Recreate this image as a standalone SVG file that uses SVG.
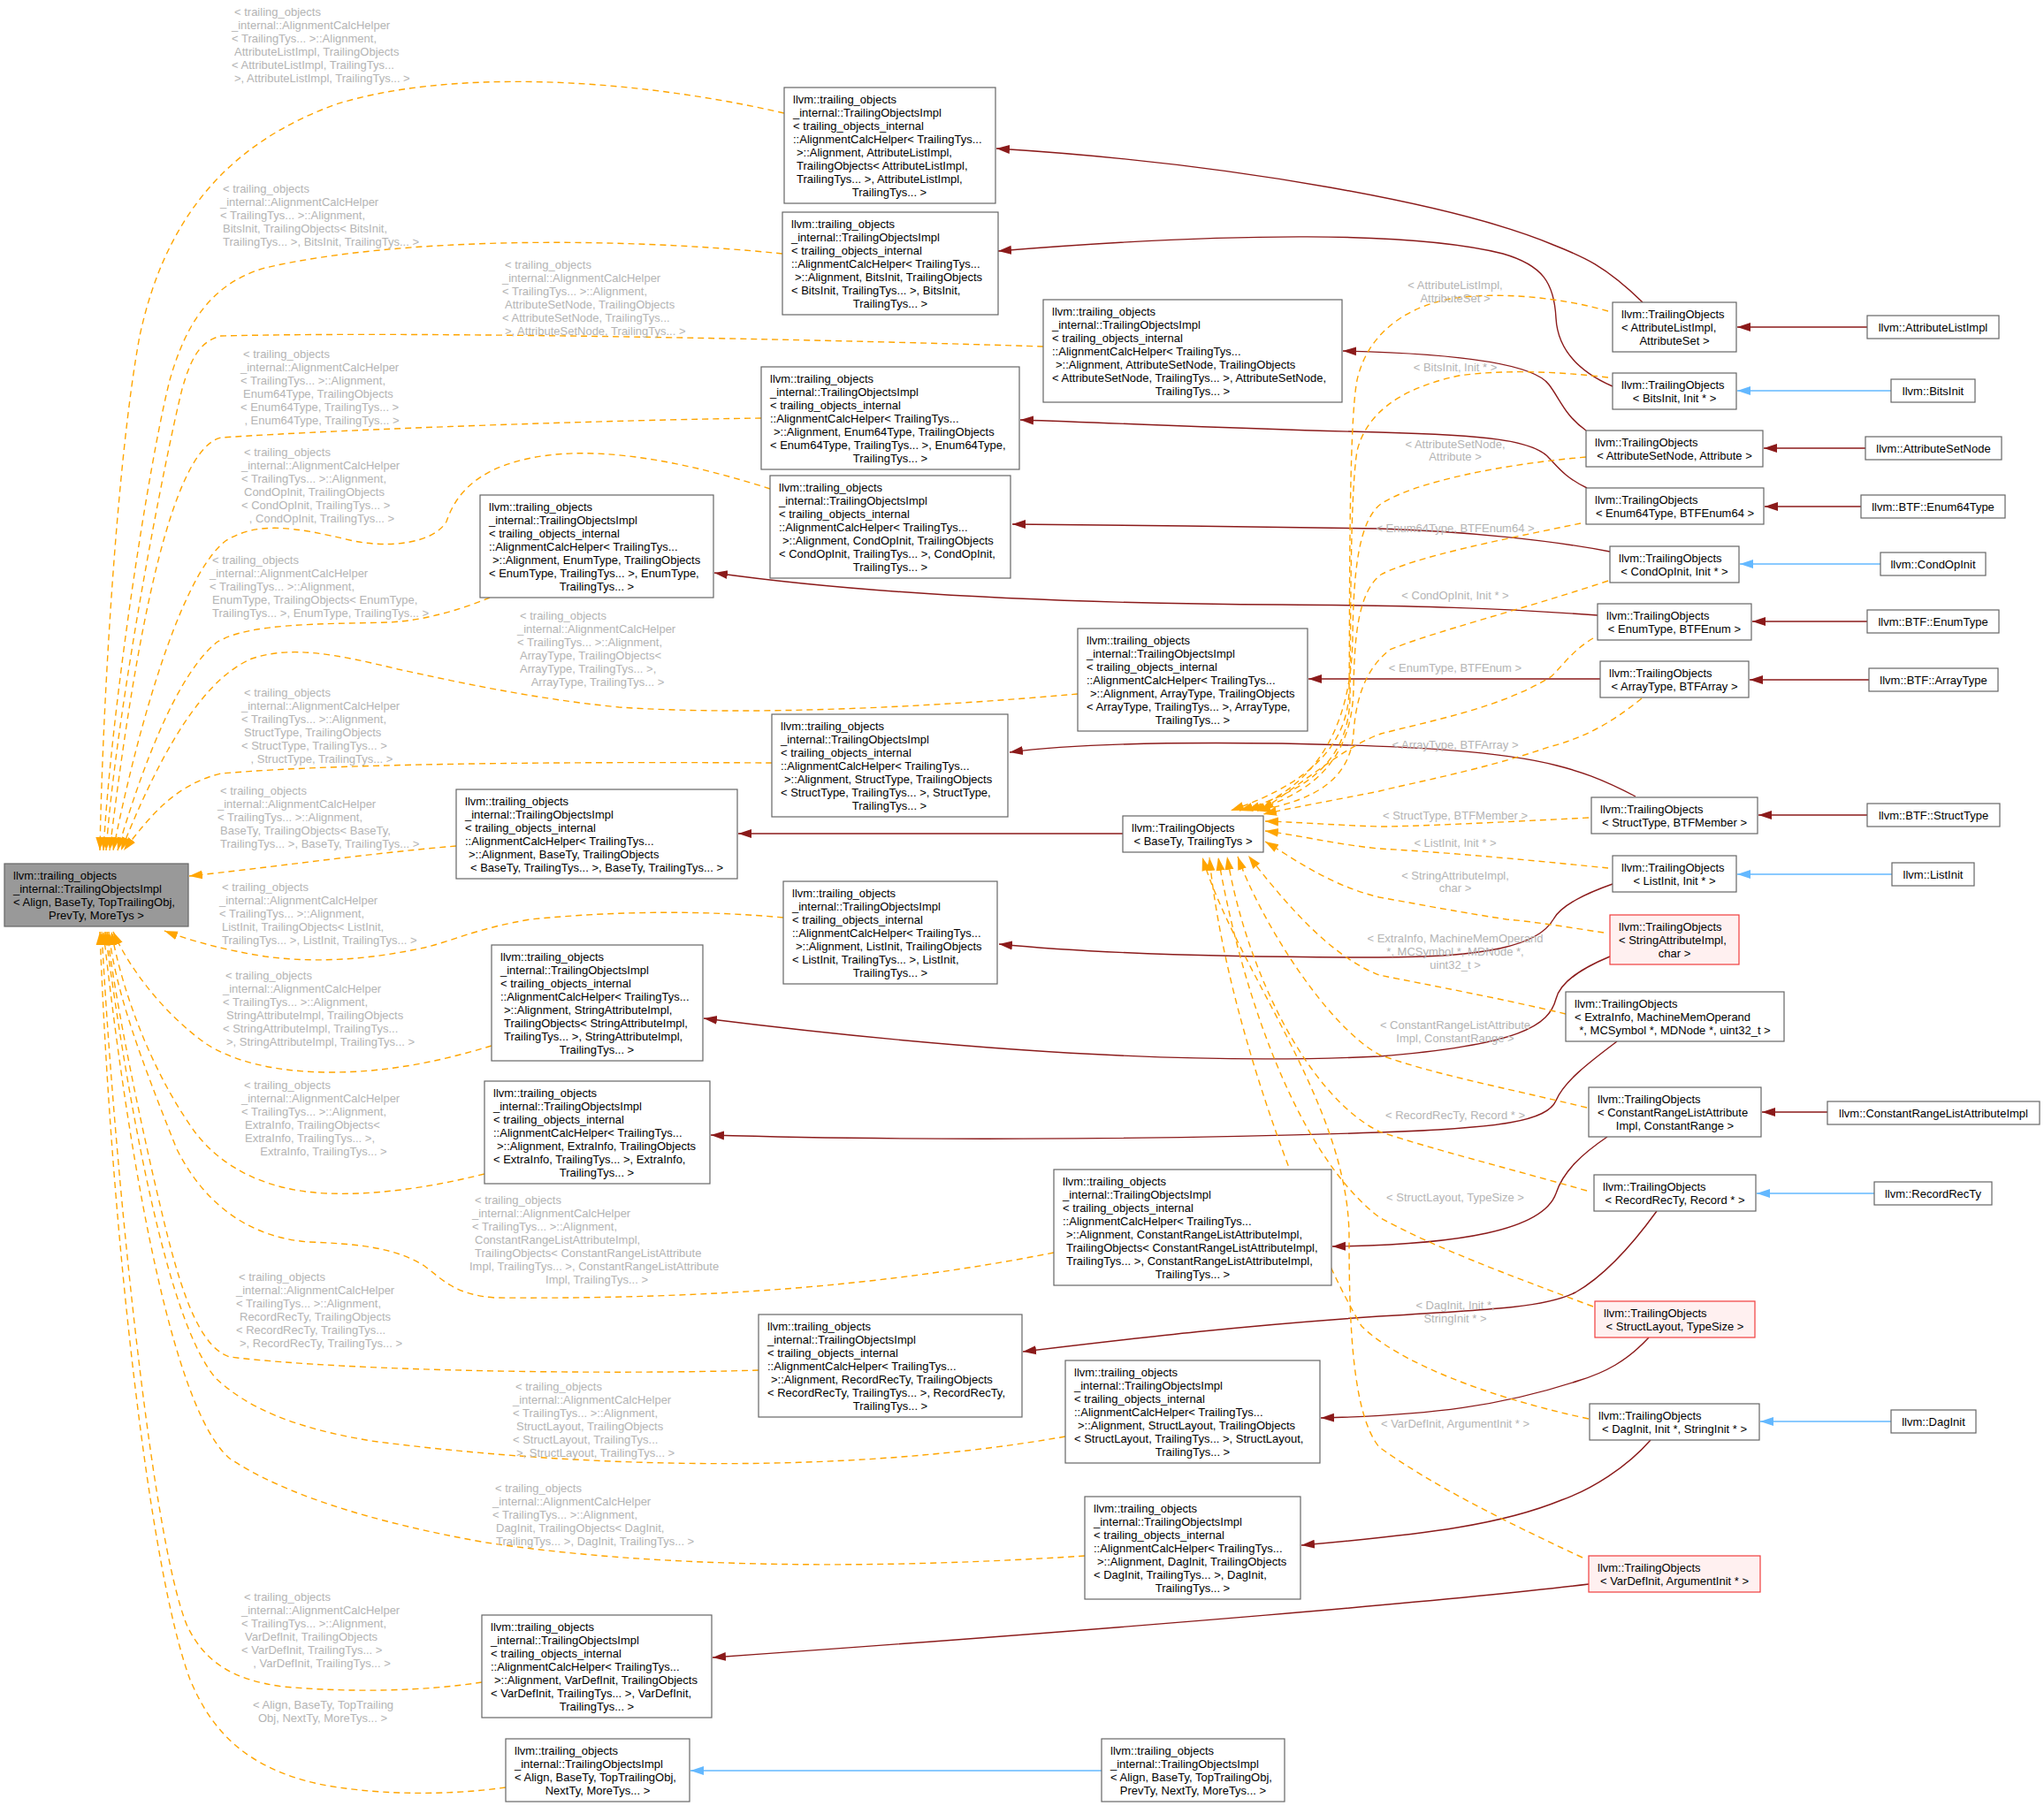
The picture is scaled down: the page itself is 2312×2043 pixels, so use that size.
<svg xmlns="http://www.w3.org/2000/svg" width="2312" height="2043" viewBox="0 0 2312 2043">
<style>
text{font-family:"Liberation Sans",Arial,sans-serif;font-size:13px;fill:#000}
.lb{fill:#b4b4b4}
.m{text-anchor:middle}
.nb{fill:#fff;stroke:#666;stroke-width:1.2}
.nr{fill:#fff0f0;stroke:#f03c3c;stroke-width:1.2}
.root{fill:#999;stroke:#666;stroke-width:1.2}
.e{fill:none;stroke-width:1.4}
.pr{stroke:#8b1a1a;marker-end:url(#mr)}
.pu{stroke:#63b8ff;marker-end:url(#mb)}
.tp{stroke:#ffa500;stroke-dasharray:7,5;marker-end:url(#mo)}
</style>
<defs>
<marker id="mr" markerUnits="userSpaceOnUse" markerWidth="16" markerHeight="12" viewBox="0 0 16 12" refX="15" refY="6" orient="auto"><path d="M0,1 L15,6 L0,11z" fill="#8b1a1a"/></marker>
<marker id="mb" markerUnits="userSpaceOnUse" markerWidth="16" markerHeight="12" viewBox="0 0 16 12" refX="15" refY="6" orient="auto"><path d="M0,1 L15,6 L0,11z" fill="#63b8ff"/></marker>
<marker id="mo" markerUnits="userSpaceOnUse" markerWidth="16" markerHeight="12" viewBox="0 0 16 12" refX="15" refY="6" orient="auto"><path d="M0,1 L15,6 L0,11z" fill="#ffa500"/></marker>
</defs>
<rect width="2312" height="2043" fill="#fff"/>

<g id="connectors">
<!-- private inheritance T -> Impl -->
<path class="e pr" d="M1858,342 C1815,300 1790,290 1757,277 C1650,232 1400,185 1127,168"/>
<path class="e pr" d="M1824,437 C1785,420 1762,395 1760,360 C1758,320 1745,300 1700,287 C1600,262 1400,262 1129,284"/>
<path class="e pr" d="M1794,487 C1770,470 1765,452 1752,435 C1735,412 1650,400 1519,397"/>
<path class="e pr" d="M1795,552 C1770,540 1762,528 1752,518 C1735,498 1680,492 1560,489 C1400,485 1300,480 1154,475"/>
<path class="e pr" d="M1821,624 C1760,612 1660,601 1560,598 C1400,596 1300,594 1145,593"/>
<path class="e pr" d="M1807,696 C1700,688 1600,685 1450,684 C1250,683 1000,675 808,648"/>
<path class="e pr" d="M1810,768 L1480,768"/>
<path class="e pr" d="M1850,901 C1810,880 1785,872 1761,866 C1700,850 1600,844 1450,841 C1300,839 1200,843 1142,851"/>
<path class="e pr" d="M1270,943 L835,943"/>
<path class="e pr" d="M1824,1000 C1790,1012 1765,1025 1757,1040 C1740,1070 1680,1083 1560,1083 C1400,1083 1250,1080 1130,1068"/>
<path class="e pr" d="M1821,1082 C1790,1095 1765,1110 1760,1130 C1752,1160 1720,1182 1560,1195 C1350,1205 1100,1190 796,1152"/>
<path class="e pr" d="M1829,1178 C1800,1200 1770,1222 1760,1245 C1750,1268 1700,1276 1560,1281 C1300,1290 1000,1290 804,1284"/>
<path class="e pr" d="M1818,1286 C1790,1305 1768,1325 1760,1350 C1745,1392 1650,1408 1507,1410"/>
<path class="e pr" d="M1874,1370 C1845,1410 1812,1445 1782,1462 C1750,1478 1700,1481 1560,1489 C1400,1500 1300,1512 1157,1529"/>
<path class="e pr" d="M1865,1513 C1840,1540 1815,1553 1785,1562 C1700,1590 1620,1601 1494,1604"/>
<path class="e pr" d="M1867,1629 C1840,1660 1800,1685 1766,1697 C1700,1724 1620,1735 1472,1748"/>
<path class="e pr" d="M1797,1792 C1650,1810 1300,1840 806,1875"/>
<!-- leaf -> TrailingObjects -->
<path class="e pr" d="M2112,370 L1965,370"/>
<path class="e pu" d="M2139,442 L1965,442"/>
<path class="e pr" d="M2110,507 L1995,507"/>
<path class="e pr" d="M2105,573 L1996,573"/>
<path class="e pu" d="M2127,638 L1968,638"/>
<path class="e pr" d="M2112,703 L1982,703"/>
<path class="e pr" d="M2114,769 L1979,769"/>
<path class="e pr" d="M2112,922 L1989,922"/>
<path class="e pu" d="M2140,989 L1965,989"/>
<path class="e pr" d="M2067,1258 L1993,1258"/>
<path class="e pu" d="M2120,1350 L1987,1350"/>
<path class="e pu" d="M2139,1608 L1991,1608"/>
<path class="e pu" d="M1246,2003 L781,2003"/>
<!-- template instances T -> BaseTy -->
<path class="e tp" d="M1819,352 C1760,335 1690,330 1640,338 C1580,350 1545,385 1535,430 C1525,480 1527,700 1526,780 C1525,850 1470,890 1392,917"/>
<path class="e tp" d="M1819,427 C1760,420 1700,418 1650,425 C1580,440 1545,470 1535,510 C1527,560 1528,700 1527,790 C1525,860 1480,895 1402,917"/>
<path class="e tp" d="M1794,517 C1700,525 1600,545 1562,570 C1536,590 1531,650 1530,720 C1529,820 1490,890 1410,917"/>
<path class="e tp" d="M1788,592 C1700,610 1600,630 1562,650 C1536,670 1532,720 1531,780 C1529,850 1495,895 1416,917"/>
<path class="e tp" d="M1819,657 C1720,690 1620,715 1572,735 C1540,760 1533,800 1531,830 C1527,880 1490,905 1422,917"/>
<path class="e tp" d="M1802,722 C1780,735 1770,750 1755,765 C1700,800 1620,815 1562,830 C1520,845 1475,885 1426,917"/>
<path class="e tp" d="M1857,790 C1820,820 1790,835 1752,845 C1680,870 1600,885 1560,895 C1510,905 1465,913 1429,921"/>
<path class="e tp" d="M1797,925 C1700,930 1600,935 1560,935 C1500,933 1470,930 1431,929"/>
<path class="e tp" d="M1819,982 C1750,975 1650,965 1560,960 C1510,955 1470,945 1431,940"/>
<path class="e tp" d="M1814,1055 C1780,1050 1740,1043 1704,1040 C1640,1030 1600,1022 1560,1015 C1500,1000 1462,970 1431,952"/>
<path class="e tp" d="M1771,1147 C1700,1130 1620,1115 1560,1103 C1500,1080 1445,1010 1412,968"/>
<path class="e tp" d="M1795,1253 C1700,1230 1620,1215 1560,1193 C1500,1160 1425,1040 1400,969"/>
<path class="e tp" d="M1795,1347 C1700,1320 1620,1300 1560,1280 C1480,1240 1410,1100 1388,969"/>
<path class="e tp" d="M1802,1478 C1700,1440 1620,1410 1560,1377 C1460,1300 1400,1100 1378,970"/>
<path class="e tp" d="M1797,1605 C1680,1580 1580,1540 1540,1500 C1480,1400 1385,1150 1368,970"/>
<path class="e tp" d="M1790,1762 C1700,1720 1620,1680 1560,1637 C1530,1600 1526,1500 1526,1400 C1526,1250 1400,1100 1360,970"/>
<!-- template instances Impl -> root -->
<path class="e tp" d="M887,128 C700,85 500,80 380,118 C250,165 185,255 158,380 C132,520 116,800 113,962"/>
<path class="e tp" d="M885,287 C700,268 450,268 300,303 C232,322 207,378 192,430 C168,525 126,800 117,962"/>
<path class="e tp" d="M1180,392 C1000,386 500,374 250,380 C226,386 216,405 206,440 C186,520 132,800 120,962"/>
<path class="e tp" d="M861,473 C700,475 400,485 250,495 C185,510 145,790 124,962"/>
<path class="e tp" d="M871,553 C800,530 700,505 620,515 C540,525 515,560 505,590 C490,615 440,620 400,612 C330,595 290,590 255,612 C200,655 150,850 128,962"/>
<path class="e tp" d="M554,676 C520,690 480,702 440,704 C360,706 282,705 246,726 C200,762 160,870 133,962"/>
<path class="e tp" d="M1219,785 C1050,800 850,810 700,800 C600,790 520,772 450,757 C380,740 330,730 285,745 C220,772 170,880 137,962"/>
<path class="e tp" d="M873,863 C700,862 400,862 250,875 C200,887 172,920 140,962"/>
<path class="e tp" d="M516,957 C420,965 300,982 214,991"/>
<path class="e tp" d="M886,1038 C800,1030 700,1030 600,1040 C540,1050 510,1065 480,1072 C420,1085 360,1090 300,1082 C255,1075 215,1064 186,1053"/>
<path class="e tp" d="M556,1183 C500,1200 440,1213 375,1213 C310,1213 262,1200 232,1180 C190,1150 148,1100 128,1054"/>
<path class="e tp" d="M548,1328 C480,1345 420,1352 370,1350 C300,1347 250,1320 220,1280 C170,1210 138,1120 126,1054"/>
<path class="e tp" d="M1192,1417 C1000,1455 800,1470 560,1468 C515,1465 500,1447 480,1432 C445,1410 400,1407 350,1405 C280,1400 230,1360 200,1300 C160,1200 130,1120 123,1054"/>
<path class="e tp" d="M858,1550 C700,1555 400,1552 260,1535 C228,1525 208,1470 190,1400 C160,1280 130,1130 121,1054"/>
<path class="e tp" d="M1205,1625 C950,1670 650,1660 420,1630 C330,1615 280,1592 245,1560 C190,1500 145,1250 119,1054"/>
<path class="e tp" d="M1227,1760 C1000,1775 750,1775 550,1745 C420,1722 320,1690 260,1650 C200,1600 150,1350 117,1054"/>
<path class="e tp" d="M545,1903 C480,1913 400,1915 320,1908 C262,1900 232,1880 212,1840 C170,1740 128,1300 115,1054"/>
<path class="e tp" d="M572,2022 C500,2032 420,2030 360,2018 C280,2000 240,1960 215,1900 C170,1780 126,1400 113,1054"/>
</g>

<g id="edge-labels">
<text class="lb m"><tspan x="1646" y="326.5">&lt; AttributeListImpl,</tspan><tspan x="1646" y="341.5">AttributeSet &gt;</tspan></text>
<text class="lb m" x="1646" y="419.5">&lt; BitsInit, Init * &gt;</text>
<text class="lb m"><tspan x="1646" y="506.5">&lt; AttributeSetNode,</tspan><tspan x="1646" y="520.5">Attribute &gt;</tspan></text>
<text class="lb m" x="1646" y="601.5">&lt; Enum64Type, BTFEnum64 &gt;</text>
<text class="lb m" x="1646" y="677.5">&lt; CondOpInit, Init * &gt;</text>
<text class="lb m" x="1646" y="759.5">&lt; EnumType, BTFEnum &gt;</text>
<text class="lb m" x="1646" y="846.5">&lt; ArrayType, BTFArray &gt;</text>
<text class="lb m" x="1646" y="926.5">&lt; StructType, BTFMember &gt;</text>
<text class="lb m" x="1646" y="957.5">&lt; ListInit, Init * &gt;</text>
<text class="lb m"><tspan x="1646" y="994.5">&lt; StringAttributeImpl,</tspan><tspan x="1646" y="1008.5">char &gt;</tspan></text>
<text class="lb m"><tspan x="1646" y="1065.5">&lt; ExtraInfo, MachineMemOperand</tspan><tspan x="1646" y="1080.5">*, MCSymbol *, MDNode *,</tspan><tspan x="1646" y="1095.5">uint32_t &gt;</tspan></text>
<text class="lb m"><tspan x="1646" y="1163.5">&lt; ConstantRangeListAttribute</tspan><tspan x="1646" y="1178.5">Impl, ConstantRange &gt;</tspan></text>
<text class="lb m" x="1646" y="1265.5">&lt; RecordRecTy, Record * &gt;</text>
<text class="lb m" x="1646" y="1358.5">&lt; StructLayout, TypeSize &gt;</text>
<text class="lb m"><tspan x="1646" y="1480.5">&lt; DagInit, Init *,</tspan><tspan x="1646" y="1495.5">StringInit * &gt;</tspan></text>
<text class="lb m" x="1646" y="1614.5">&lt; VarDefInit, ArgumentInit * &gt;</text>

<text class="lb"><tspan x="265" y="17.5">&lt; trailing_objects</tspan><tspan x="262" y="32.5">_internal::AlignmentCalcHelper</tspan><tspan x="262" y="47.5">&lt; TrailingTys... &gt;::Alignment,</tspan><tspan x="265" y="62.5">AttributeListImpl, TrailingObjects</tspan><tspan x="262" y="77.5">&lt; AttributeListImpl, TrailingTys...</tspan><tspan x="265" y="92.5">&gt;, AttributeListImpl, TrailingTys... &gt;</tspan></text>
<text class="lb"><tspan x="252" y="217.5">&lt; trailing_objects</tspan><tspan x="249" y="232.5">_internal::AlignmentCalcHelper</tspan><tspan x="249" y="247.5">&lt; TrailingTys... &gt;::Alignment,</tspan><tspan x="252" y="262.5">BitsInit, TrailingObjects&lt; BitsInit,</tspan><tspan x="252" y="277.5">TrailingTys... &gt;, BitsInit, TrailingTys... &gt;</tspan></text>
<text class="lb"><tspan x="571" y="303.5">&lt; trailing_objects</tspan><tspan x="568" y="318.5">_internal::AlignmentCalcHelper</tspan><tspan x="568" y="333.5">&lt; TrailingTys... &gt;::Alignment,</tspan><tspan x="571" y="348.5">AttributeSetNode, TrailingObjects</tspan><tspan x="568" y="363.5">&lt; AttributeSetNode, TrailingTys...</tspan><tspan x="571" y="378.5">&gt;, AttributeSetNode, TrailingTys... &gt;</tspan></text>
<text class="lb"><tspan x="275" y="404.5">&lt; trailing_objects</tspan><tspan x="272" y="419.5">_internal::AlignmentCalcHelper</tspan><tspan x="272" y="434.5">&lt; TrailingTys... &gt;::Alignment,</tspan><tspan x="275" y="449.5">Enum64Type, TrailingObjects</tspan><tspan x="272" y="464.5">&lt; Enum64Type, TrailingTys... &gt;</tspan><tspan class="m" x="364" y="479.5">, Enum64Type, TrailingTys... &gt;</tspan></text>
<text class="lb"><tspan x="276" y="515.5">&lt; trailing_objects</tspan><tspan x="273" y="530.5">_internal::AlignmentCalcHelper</tspan><tspan x="273" y="545.5">&lt; TrailingTys... &gt;::Alignment,</tspan><tspan x="276" y="560.5">CondOpInit, TrailingObjects</tspan><tspan x="273" y="575.5">&lt; CondOpInit, TrailingTys... &gt;</tspan><tspan class="m" x="364" y="590.5">, CondOpInit, TrailingTys... &gt;</tspan></text>
<text class="lb"><tspan x="240" y="637.5">&lt; trailing_objects</tspan><tspan x="237" y="652.5">_internal::AlignmentCalcHelper</tspan><tspan x="237" y="667.5">&lt; TrailingTys... &gt;::Alignment,</tspan><tspan x="240" y="682.5">EnumType, TrailingObjects&lt; EnumType,</tspan><tspan x="240" y="697.5">TrailingTys... &gt;, EnumType, TrailingTys... &gt;</tspan></text>
<text class="lb"><tspan x="588" y="700.5">&lt; trailing_objects</tspan><tspan x="585" y="715.5">_internal::AlignmentCalcHelper</tspan><tspan x="585" y="730.5">&lt; TrailingTys... &gt;::Alignment,</tspan><tspan x="588" y="745.5">ArrayType, TrailingObjects&lt;</tspan><tspan x="588" y="760.5">ArrayType, TrailingTys... &gt;,</tspan><tspan class="m" x="676" y="775.5">ArrayType, TrailingTys... &gt;</tspan></text>
<text class="lb"><tspan x="276" y="787.5">&lt; trailing_objects</tspan><tspan x="273" y="802.5">_internal::AlignmentCalcHelper</tspan><tspan x="273" y="817.5">&lt; TrailingTys... &gt;::Alignment,</tspan><tspan x="276" y="832.5">StructType, TrailingObjects</tspan><tspan x="273" y="847.5">&lt; StructType, TrailingTys... &gt;</tspan><tspan class="m" x="364" y="862.5">, StructType, TrailingTys... &gt;</tspan></text>
<text class="lb"><tspan x="249" y="898.5">&lt; trailing_objects</tspan><tspan x="246" y="913.5">_internal::AlignmentCalcHelper</tspan><tspan x="246" y="928.5">&lt; TrailingTys... &gt;::Alignment,</tspan><tspan x="249" y="943.5">BaseTy, TrailingObjects&lt; BaseTy,</tspan><tspan x="249" y="958.5">TrailingTys... &gt;, BaseTy, TrailingTys... &gt;</tspan></text>
<text class="lb"><tspan x="251" y="1007.5">&lt; trailing_objects</tspan><tspan x="248" y="1022.5">_internal::AlignmentCalcHelper</tspan><tspan x="248" y="1037.5">&lt; TrailingTys... &gt;::Alignment,</tspan><tspan x="251" y="1052.5">ListInit, TrailingObjects&lt; ListInit,</tspan><tspan x="251" y="1067.5">TrailingTys... &gt;, ListInit, TrailingTys... &gt;</tspan></text>
<text class="lb"><tspan x="255" y="1107.5">&lt; trailing_objects</tspan><tspan x="252" y="1122.5">_internal::AlignmentCalcHelper</tspan><tspan x="252" y="1137.5">&lt; TrailingTys... &gt;::Alignment,</tspan><tspan x="256" y="1152.5">StringAttributeImpl, TrailingObjects</tspan><tspan x="252" y="1167.5">&lt; StringAttributeImpl, TrailingTys...</tspan><tspan x="256" y="1182.5">&gt;, StringAttributeImpl, TrailingTys... &gt;</tspan></text>
<text class="lb"><tspan x="276" y="1231.5">&lt; trailing_objects</tspan><tspan x="273" y="1246.5">_internal::AlignmentCalcHelper</tspan><tspan x="273" y="1261.5">&lt; TrailingTys... &gt;::Alignment,</tspan><tspan x="277" y="1276.5">ExtraInfo, TrailingObjects&lt;</tspan><tspan x="277" y="1291.5">ExtraInfo, TrailingTys... &gt;,</tspan><tspan class="m" x="366" y="1306.5">ExtraInfo, TrailingTys... &gt;</tspan></text>
<text class="lb"><tspan x="537" y="1361.5">&lt; trailing_objects</tspan><tspan x="534" y="1376.5">_internal::AlignmentCalcHelper</tspan><tspan x="534" y="1391.5">&lt; TrailingTys... &gt;::Alignment,</tspan><tspan x="537" y="1406.5">ConstantRangeListAttributeImpl,</tspan><tspan x="537" y="1421.5">TrailingObjects&lt; ConstantRangeListAttribute</tspan><tspan x="531" y="1436.5">Impl, TrailingTys... &gt;, ConstantRangeListAttribute</tspan><tspan class="m" x="675" y="1451.5">Impl, TrailingTys... &gt;</tspan></text>
<text class="lb"><tspan x="270" y="1448.5">&lt; trailing_objects</tspan><tspan x="267" y="1463.5">_internal::AlignmentCalcHelper</tspan><tspan x="267" y="1478.5">&lt; TrailingTys... &gt;::Alignment,</tspan><tspan x="271" y="1493.5">RecordRecTy, TrailingObjects</tspan><tspan x="267" y="1508.5">&lt; RecordRecTy, TrailingTys...</tspan><tspan x="271" y="1523.5">&gt;, RecordRecTy, TrailingTys... &gt;</tspan></text>
<text class="lb"><tspan x="583" y="1572.5">&lt; trailing_objects</tspan><tspan x="580" y="1587.5">_internal::AlignmentCalcHelper</tspan><tspan x="580" y="1602.5">&lt; TrailingTys... &gt;::Alignment,</tspan><tspan x="584" y="1617.5">StructLayout, TrailingObjects</tspan><tspan x="580" y="1632.5">&lt; StructLayout, TrailingTys...</tspan><tspan x="584" y="1647.5">&gt;, StructLayout, TrailingTys... &gt;</tspan></text>
<text class="lb"><tspan x="560" y="1687.5">&lt; trailing_objects</tspan><tspan x="557" y="1702.5">_internal::AlignmentCalcHelper</tspan><tspan x="557" y="1717.5">&lt; TrailingTys... &gt;::Alignment,</tspan><tspan x="561" y="1732.5">DagInit, TrailingObjects&lt; DagInit,</tspan><tspan x="561" y="1747.5">TrailingTys... &gt;, DagInit, TrailingTys... &gt;</tspan></text>
<text class="lb"><tspan x="276" y="1810.5">&lt; trailing_objects</tspan><tspan x="273" y="1825.5">_internal::AlignmentCalcHelper</tspan><tspan x="273" y="1840.5">&lt; TrailingTys... &gt;::Alignment,</tspan><tspan x="277" y="1855.5">VarDefInit, TrailingObjects</tspan><tspan x="273" y="1870.5">&lt; VarDefInit, TrailingTys... &gt;</tspan><tspan class="m" x="364" y="1885.5">, VarDefInit, TrailingTys... &gt;</tspan></text>
<text class="lb"><tspan x="286" y="1932.5">&lt; Align, BaseTy, TopTrailing</tspan><tspan class="m" x="365" y="1947.5">Obj, NextTy, MoreTys... &gt;</tspan></text>
</g>

<g id="n-root"><rect class="root" x="5" y="977" width="208" height="71"/><text><tspan x="15" y="995">llvm::trailing_objects</tspan><tspan x="15" y="1010">_internal::TrailingObjectsImpl</tspan><tspan x="15" y="1025">&lt; Align, BaseTy, TopTrailingObj,</tspan><tspan class="m" x="109" y="1040">PrevTy, MoreTys &gt;</tspan></text></g>

<g id="n-impl-attrlist"><rect class="nb" x="887" y="99" width="239" height="131"/><text><tspan x="897" y="117">llvm::trailing_objects</tspan><tspan x="897" y="132">_internal::TrailingObjectsImpl</tspan><tspan x="897" y="147">&lt; trailing_objects_internal</tspan><tspan x="897" y="162">::AlignmentCalcHelper&lt; TrailingTys...</tspan><tspan x="901" y="177">&gt;::Alignment, AttributeListImpl,</tspan><tspan x="901" y="192">TrailingObjects&lt; AttributeListImpl,</tspan><tspan x="901" y="207">TrailingTys... &gt;, AttributeListImpl,</tspan><tspan class="m" x="1006" y="222">TrailingTys... &gt;</tspan></text></g>

<g id="n-impl-bitsinit"><rect class="nb" x="885" y="240" width="244" height="116"/><text><tspan x="895" y="258">llvm::trailing_objects</tspan><tspan x="895" y="273">_internal::TrailingObjectsImpl</tspan><tspan x="895" y="288">&lt; trailing_objects_internal</tspan><tspan x="895" y="303">::AlignmentCalcHelper&lt; TrailingTys...</tspan><tspan x="899" y="318">&gt;::Alignment, BitsInit, TrailingObjects</tspan><tspan x="895" y="333">&lt; BitsInit, TrailingTys... &gt;, BitsInit,</tspan><tspan class="m" x="1007" y="348">TrailingTys... &gt;</tspan></text></g>

<g id="n-impl-attrset"><rect class="nb" x="1180" y="339" width="338" height="116"/><text><tspan x="1190" y="357">llvm::trailing_objects</tspan><tspan x="1190" y="372">_internal::TrailingObjectsImpl</tspan><tspan x="1190" y="387">&lt; trailing_objects_internal</tspan><tspan x="1190" y="402">::AlignmentCalcHelper&lt; TrailingTys...</tspan><tspan x="1194" y="417">&gt;::Alignment, AttributeSetNode, TrailingObjects</tspan><tspan x="1190" y="432">&lt; AttributeSetNode, TrailingTys... &gt;, AttributeSetNode,</tspan><tspan class="m" x="1349" y="447">TrailingTys... &gt;</tspan></text></g>

<g id="n-impl-enum64"><rect class="nb" x="861" y="415" width="292" height="116"/><text><tspan x="871" y="433">llvm::trailing_objects</tspan><tspan x="871" y="448">_internal::TrailingObjectsImpl</tspan><tspan x="871" y="463">&lt; trailing_objects_internal</tspan><tspan x="871" y="478">::AlignmentCalcHelper&lt; TrailingTys...</tspan><tspan x="875" y="493">&gt;::Alignment, Enum64Type, TrailingObjects</tspan><tspan x="871" y="508">&lt; Enum64Type, TrailingTys... &gt;, Enum64Type,</tspan><tspan class="m" x="1007" y="523">TrailingTys... &gt;</tspan></text></g>

<g id="n-impl-condop"><rect class="nb" x="871" y="538" width="272" height="116"/><text><tspan x="881" y="556">llvm::trailing_objects</tspan><tspan x="881" y="571">_internal::TrailingObjectsImpl</tspan><tspan x="881" y="586">&lt; trailing_objects_internal</tspan><tspan x="881" y="601">::AlignmentCalcHelper&lt; TrailingTys...</tspan><tspan x="885" y="616">&gt;::Alignment, CondOpInit, TrailingObjects</tspan><tspan x="881" y="631">&lt; CondOpInit, TrailingTys... &gt;, CondOpInit,</tspan><tspan class="m" x="1007" y="646">TrailingTys... &gt;</tspan></text></g>

<g id="n-impl-enumtype"><rect class="nb" x="543" y="560" width="264" height="116"/><text><tspan x="553" y="578">llvm::trailing_objects</tspan><tspan x="553" y="593">_internal::TrailingObjectsImpl</tspan><tspan x="553" y="608">&lt; trailing_objects_internal</tspan><tspan x="553" y="623">::AlignmentCalcHelper&lt; TrailingTys...</tspan><tspan x="557" y="638">&gt;::Alignment, EnumType, TrailingObjects</tspan><tspan x="553" y="653">&lt; EnumType, TrailingTys... &gt;, EnumType,</tspan><tspan class="m" x="675" y="668">TrailingTys... &gt;</tspan></text></g>

<g id="n-impl-arraytype"><rect class="nb" x="1219" y="711" width="260" height="116"/><text><tspan x="1229" y="729">llvm::trailing_objects</tspan><tspan x="1229" y="744">_internal::TrailingObjectsImpl</tspan><tspan x="1229" y="759">&lt; trailing_objects_internal</tspan><tspan x="1229" y="774">::AlignmentCalcHelper&lt; TrailingTys...</tspan><tspan x="1233" y="789">&gt;::Alignment, ArrayType, TrailingObjects</tspan><tspan x="1229" y="804">&lt; ArrayType, TrailingTys... &gt;, ArrayType,</tspan><tspan class="m" x="1349" y="819">TrailingTys... &gt;</tspan></text></g>

<g id="n-impl-structtype"><rect class="nb" x="873" y="808" width="267" height="116"/><text><tspan x="883" y="826">llvm::trailing_objects</tspan><tspan x="883" y="841">_internal::TrailingObjectsImpl</tspan><tspan x="883" y="856">&lt; trailing_objects_internal</tspan><tspan x="883" y="871">::AlignmentCalcHelper&lt; TrailingTys...</tspan><tspan x="887" y="886">&gt;::Alignment, StructType, TrailingObjects</tspan><tspan x="883" y="901">&lt; StructType, TrailingTys... &gt;, StructType,</tspan><tspan class="m" x="1006" y="916">TrailingTys... &gt;</tspan></text></g>

<g id="n-impl-basety"><rect class="nb" x="516" y="893" width="318" height="101"/><text><tspan x="526" y="911">llvm::trailing_objects</tspan><tspan x="526" y="926">_internal::TrailingObjectsImpl</tspan><tspan x="526" y="941">&lt; trailing_objects_internal</tspan><tspan x="526" y="956">::AlignmentCalcHelper&lt; TrailingTys...</tspan><tspan x="530" y="971">&gt;::Alignment, BaseTy, TrailingObjects</tspan><tspan class="m" x="675" y="986">&lt; BaseTy, TrailingTys... &gt;, BaseTy, TrailingTys... &gt;</tspan></text></g>

<g id="n-impl-listinit"><rect class="nb" x="886" y="997" width="242" height="116"/><text><tspan x="896" y="1015">llvm::trailing_objects</tspan><tspan x="896" y="1030">_internal::TrailingObjectsImpl</tspan><tspan x="896" y="1045">&lt; trailing_objects_internal</tspan><tspan x="896" y="1060">::AlignmentCalcHelper&lt; TrailingTys...</tspan><tspan x="900" y="1075">&gt;::Alignment, ListInit, TrailingObjects</tspan><tspan x="896" y="1090">&lt; ListInit, TrailingTys... &gt;, ListInit,</tspan><tspan class="m" x="1007" y="1105">TrailingTys... &gt;</tspan></text></g>

<g id="n-impl-stringattr"><rect class="nb" x="556" y="1069" width="239" height="131"/><text><tspan x="566" y="1087">llvm::trailing_objects</tspan><tspan x="566" y="1102">_internal::TrailingObjectsImpl</tspan><tspan x="566" y="1117">&lt; trailing_objects_internal</tspan><tspan x="566" y="1132">::AlignmentCalcHelper&lt; TrailingTys...</tspan><tspan x="570" y="1147">&gt;::Alignment, StringAttributeImpl,</tspan><tspan x="570" y="1162">TrailingObjects&lt; StringAttributeImpl,</tspan><tspan x="570" y="1177">TrailingTys... &gt;, StringAttributeImpl,</tspan><tspan class="m" x="675" y="1192">TrailingTys... &gt;</tspan></text></g>

<g id="n-impl-extrainfo"><rect class="nb" x="548" y="1223" width="255" height="116"/><text><tspan x="558" y="1241">llvm::trailing_objects</tspan><tspan x="558" y="1256">_internal::TrailingObjectsImpl</tspan><tspan x="558" y="1271">&lt; trailing_objects_internal</tspan><tspan x="558" y="1286">::AlignmentCalcHelper&lt; TrailingTys...</tspan><tspan x="562" y="1301">&gt;::Alignment, ExtraInfo, TrailingObjects</tspan><tspan x="558" y="1316">&lt; ExtraInfo, TrailingTys... &gt;, ExtraInfo,</tspan><tspan class="m" x="675" y="1331">TrailingTys... &gt;</tspan></text></g>

<g id="n-impl-constrange"><rect class="nb" x="1192" y="1323" width="314" height="131"/><text><tspan x="1202" y="1341">llvm::trailing_objects</tspan><tspan x="1202" y="1356">_internal::TrailingObjectsImpl</tspan><tspan x="1202" y="1371">&lt; trailing_objects_internal</tspan><tspan x="1202" y="1386">::AlignmentCalcHelper&lt; TrailingTys...</tspan><tspan x="1206" y="1401">&gt;::Alignment, ConstantRangeListAttributeImpl,</tspan><tspan x="1206" y="1416">TrailingObjects&lt; ConstantRangeListAttributeImpl,</tspan><tspan x="1206" y="1431">TrailingTys... &gt;, ConstantRangeListAttributeImpl,</tspan><tspan class="m" x="1349" y="1446">TrailingTys... &gt;</tspan></text></g>

<g id="n-impl-recordrecty"><rect class="nb" x="858" y="1487" width="298" height="116"/><text><tspan x="868" y="1505">llvm::trailing_objects</tspan><tspan x="868" y="1520">_internal::TrailingObjectsImpl</tspan><tspan x="868" y="1535">&lt; trailing_objects_internal</tspan><tspan x="868" y="1550">::AlignmentCalcHelper&lt; TrailingTys...</tspan><tspan x="872" y="1565">&gt;::Alignment, RecordRecTy, TrailingObjects</tspan><tspan x="868" y="1580">&lt; RecordRecTy, TrailingTys... &gt;, RecordRecTy,</tspan><tspan class="m" x="1007" y="1595">TrailingTys... &gt;</tspan></text></g>

<g id="n-impl-structlayout"><rect class="nb" x="1205" y="1539" width="288" height="116"/><text><tspan x="1215" y="1557">llvm::trailing_objects</tspan><tspan x="1215" y="1572">_internal::TrailingObjectsImpl</tspan><tspan x="1215" y="1587">&lt; trailing_objects_internal</tspan><tspan x="1215" y="1602">::AlignmentCalcHelper&lt; TrailingTys...</tspan><tspan x="1219" y="1617">&gt;::Alignment, StructLayout, TrailingObjects</tspan><tspan x="1215" y="1632">&lt; StructLayout, TrailingTys... &gt;, StructLayout,</tspan><tspan class="m" x="1349" y="1647">TrailingTys... &gt;</tspan></text></g>

<g id="n-impl-daginit"><rect class="nb" x="1227" y="1693" width="244" height="116"/><text><tspan x="1237" y="1711">llvm::trailing_objects</tspan><tspan x="1237" y="1726">_internal::TrailingObjectsImpl</tspan><tspan x="1237" y="1741">&lt; trailing_objects_internal</tspan><tspan x="1237" y="1756">::AlignmentCalcHelper&lt; TrailingTys...</tspan><tspan x="1241" y="1771">&gt;::Alignment, DagInit, TrailingObjects</tspan><tspan x="1237" y="1786">&lt; DagInit, TrailingTys... &gt;, DagInit,</tspan><tspan class="m" x="1349" y="1801">TrailingTys... &gt;</tspan></text></g>

<g id="n-impl-vardefinit"><rect class="nb" x="545" y="1827" width="260" height="116"/><text><tspan x="555" y="1845">llvm::trailing_objects</tspan><tspan x="555" y="1860">_internal::TrailingObjectsImpl</tspan><tspan x="555" y="1875">&lt; trailing_objects_internal</tspan><tspan x="555" y="1890">::AlignmentCalcHelper&lt; TrailingTys...</tspan><tspan x="559" y="1905">&gt;::Alignment, VarDefInit, TrailingObjects</tspan><tspan x="555" y="1920">&lt; VarDefInit, TrailingTys... &gt;, VarDefInit,</tspan><tspan class="m" x="675" y="1935">TrailingTys... &gt;</tspan></text></g>

<g id="n-impl-next"><rect class="nb" x="572" y="1967" width="208" height="71"/><text><tspan x="582" y="1985">llvm::trailing_objects</tspan><tspan x="582" y="2000">_internal::TrailingObjectsImpl</tspan><tspan x="582" y="2015">&lt; Align, BaseTy, TopTrailingObj,</tspan><tspan class="m" x="676" y="2030">NextTy, MoreTys... &gt;</tspan></text></g>

<g id="n-impl-prevnext"><rect class="nb" x="1246" y="1967" width="207" height="71"/><text><tspan x="1256" y="1985">llvm::trailing_objects</tspan><tspan x="1256" y="2000">_internal::TrailingObjectsImpl</tspan><tspan x="1256" y="2015">&lt; Align, BaseTy, TopTrailingObj,</tspan><tspan class="m" x="1349.5" y="2030">PrevTy, NextTy, MoreTys... &gt;</tspan></text></g>

<g id="n-to-basety"><rect class="nb" x="1270" y="923" width="159" height="41"/><text><tspan x="1280" y="941">llvm::TrailingObjects</tspan><tspan class="m" x="1349.5" y="956">&lt; BaseTy, TrailingTys &gt;</tspan></text></g>

<g id="n-to-attrlist"><rect class="nb" x="1824" y="342" width="140" height="56"/><text><tspan x="1834" y="360">llvm::TrailingObjects</tspan><tspan x="1834" y="375">&lt; AttributeListImpl,</tspan><tspan class="m" x="1894" y="390">AttributeSet &gt;</tspan></text></g>
<g id="n-to-bitsinit"><rect class="nb" x="1824" y="422" width="140" height="41"/><text><tspan x="1834" y="440">llvm::TrailingObjects</tspan><tspan class="m" x="1894" y="455">&lt; BitsInit, Init * &gt;</tspan></text></g>
<g id="n-to-attrset"><rect class="nb" x="1794" y="487" width="200" height="41"/><text><tspan x="1804" y="505">llvm::TrailingObjects</tspan><tspan class="m" x="1894" y="520">&lt; AttributeSetNode, Attribute &gt;</tspan></text></g>
<g id="n-to-enum64"><rect class="nb" x="1794" y="552" width="201" height="41"/><text><tspan x="1804" y="570">llvm::TrailingObjects</tspan><tspan class="m" x="1894.5" y="585">&lt; Enum64Type, BTFEnum64 &gt;</tspan></text></g>
<g id="n-to-condop"><rect class="nb" x="1821" y="618" width="146" height="41"/><text><tspan x="1831" y="636">llvm::TrailingObjects</tspan><tspan class="m" x="1894" y="651">&lt; CondOpInit, Init * &gt;</tspan></text></g>
<g id="n-to-enumtype"><rect class="nb" x="1807" y="683" width="174" height="41"/><text><tspan x="1817" y="701">llvm::TrailingObjects</tspan><tspan class="m" x="1894" y="716">&lt; EnumType, BTFEnum &gt;</tspan></text></g>
<g id="n-to-arraytype"><rect class="nb" x="1810" y="748" width="168" height="41"/><text><tspan x="1820" y="766">llvm::TrailingObjects</tspan><tspan class="m" x="1894" y="781">&lt; ArrayType, BTFArray &gt;</tspan></text></g>
<g id="n-to-structtype"><rect class="nb" x="1800" y="902" width="188" height="41"/><text><tspan x="1810" y="920">llvm::TrailingObjects</tspan><tspan class="m" x="1894" y="935">&lt; StructType, BTFMember &gt;</tspan></text></g>
<g id="n-to-listinit"><rect class="nb" x="1824" y="968" width="140" height="41"/><text><tspan x="1834" y="986">llvm::TrailingObjects</tspan><tspan class="m" x="1894" y="1001">&lt; ListInit, Init * &gt;</tspan></text></g>
<g id="n-to-stringattr"><rect class="nr" x="1821" y="1035" width="146" height="56"/><text><tspan x="1831" y="1053">llvm::TrailingObjects</tspan><tspan x="1831" y="1068">&lt; StringAttributeImpl,</tspan><tspan class="m" x="1894" y="1083">char &gt;</tspan></text></g>
<g id="n-to-extrainfo"><rect class="nb" x="1771" y="1122" width="247" height="56"/><text><tspan x="1781" y="1140">llvm::TrailingObjects</tspan><tspan x="1781" y="1155">&lt; ExtraInfo, MachineMemOperand</tspan><tspan class="m" x="1894.5" y="1170">*, MCSymbol *, MDNode *, uint32_t &gt;</tspan></text></g>
<g id="n-to-constrange"><rect class="nb" x="1797" y="1230" width="195" height="56"/><text><tspan x="1807" y="1248">llvm::TrailingObjects</tspan><tspan x="1807" y="1263">&lt; ConstantRangeListAttribute</tspan><tspan class="m" x="1894.5" y="1278">Impl, ConstantRange &gt;</tspan></text></g>
<g id="n-to-recordrecty"><rect class="nb" x="1803" y="1329" width="183" height="41"/><text><tspan x="1813" y="1347">llvm::TrailingObjects</tspan><tspan class="m" x="1894.5" y="1362">&lt; RecordRecTy, Record * &gt;</tspan></text></g>
<g id="n-to-structlayout"><rect class="nr" x="1804" y="1472" width="181" height="41"/><text><tspan x="1814" y="1490">llvm::TrailingObjects</tspan><tspan class="m" x="1894.5" y="1505">&lt; StructLayout, TypeSize &gt;</tspan></text></g>
<g id="n-to-daginit"><rect class="nb" x="1798" y="1588" width="192" height="41"/><text><tspan x="1808" y="1606">llvm::TrailingObjects</tspan><tspan class="m" x="1894" y="1621">&lt; DagInit, Init *, StringInit * &gt;</tspan></text></g>
<g id="n-to-vardefinit"><rect class="nr" x="1797" y="1760" width="194" height="41"/><text><tspan x="1807" y="1778">llvm::TrailingObjects</tspan><tspan class="m" x="1894" y="1793">&lt; VarDefInit, ArgumentInit * &gt;</tspan></text></g>

<g id="n-attributelistimpl"><rect class="nb" x="2112" y="357" width="149" height="26"/><text class="m" x="2186.5" y="374.5">llvm::AttributeListImpl</text></g>
<g id="n-bitsinit"><rect class="nb" x="2139" y="429" width="95" height="26"/><text class="m" x="2186.5" y="446.5">llvm::BitsInit</text></g>
<g id="n-attributesetnode"><rect class="nb" x="2110" y="494" width="154" height="26"/><text class="m" x="2187" y="511.5">llvm::AttributeSetNode</text></g>
<g id="n-enum64type"><rect class="nb" x="2105" y="560" width="163" height="26"/><text class="m" x="2186.5" y="577.5">llvm::BTF::Enum64Type</text></g>
<g id="n-condopinit"><rect class="nb" x="2127" y="625" width="119" height="26"/><text class="m" x="2186.5" y="642.5">llvm::CondOpInit</text></g>
<g id="n-enumtype"><rect class="nb" x="2112" y="690" width="149" height="26"/><text class="m" x="2186.5" y="707.5">llvm::BTF::EnumType</text></g>
<g id="n-arraytype"><rect class="nb" x="2114" y="756" width="146" height="26"/><text class="m" x="2187" y="773.5">llvm::BTF::ArrayType</text></g>
<g id="n-structtype"><rect class="nb" x="2112" y="909" width="150" height="26"/><text class="m" x="2187" y="926.5">llvm::BTF::StructType</text></g>
<g id="n-listinit"><rect class="nb" x="2140" y="976" width="93" height="26"/><text class="m" x="2186.5" y="993.5">llvm::ListInit</text></g>
<g id="n-constrangeimpl"><rect class="nb" x="2067" y="1246" width="240" height="26"/><text class="m" x="2187" y="1263.5">llvm::ConstantRangeListAttributeImpl</text></g>
<g id="n-recordrecty"><rect class="nb" x="2120" y="1337" width="133" height="26"/><text class="m" x="2186.5" y="1354.5">llvm::RecordRecTy</text></g>
<g id="n-daginit"><rect class="nb" x="2139" y="1595" width="96" height="26"/><text class="m" x="2187" y="1612.5">llvm::DagInit</text></g>
</svg>
